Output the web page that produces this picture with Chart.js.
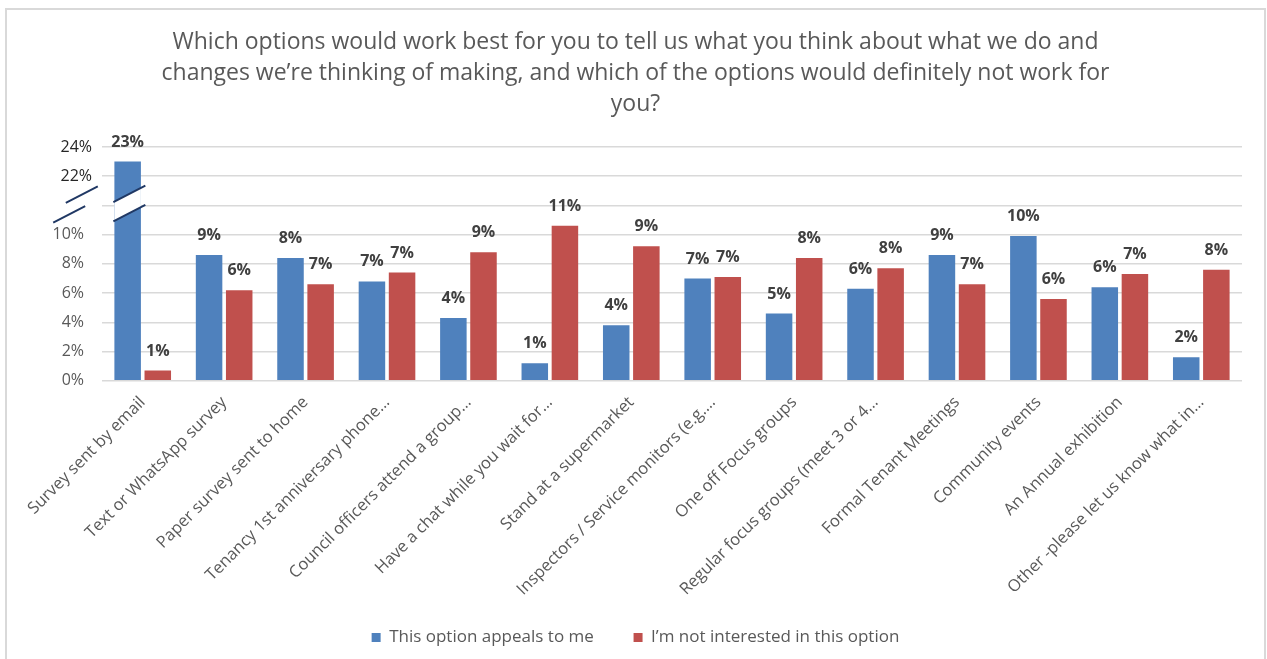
<!DOCTYPE html>
<html>
<head>
<meta charset="utf-8">
<script src="https://cdn.jsdelivr.net/npm/chart.js@4.4.0/dist/chart.umd.min.js"></script>
<style>
  html, body { margin: 0; padding: 0; background: #fff; overflow: hidden; }
  #frame { position: absolute; left: 5px; top: 8px; width: 1257px; height: 700px; border: 2px solid #d9d9d9; }
  #chart { display: block; }
</style>
</head>
<body>
<div id="frame"><canvas id="chart" width="1257" height="649"></canvas></div>
<script>
const categories = [
  'Survey sent by email',
  'Text or WhatsApp survey',
  'Paper survey sent to home',
  'Tenancy 1st anniversary phone\u2026',
  'Council officers attend a group\u2026',
  'Have a chat while you wait for\u2026',
  'Stand at a supermarket',
  'Inspectors / Service monitors (e.g.\u2026',
  'One off Focus groups',
  'Regular focus groups (meet 3 or 4\u2026',
  'Formal Tenant Meetings',
  'Community events',
  'An Annual exhibition',
  'Other -please let us know what in\u2026'
];
const appealsToMe   = [23.0, 8.6, 8.4, 6.8, 4.3, 1.2, 3.8, 7.0, 4.6, 6.3, 8.6, 9.9, 6.4, 1.6];
const notInterested = [0.7, 6.2, 6.6, 7.4, 8.8, 10.6, 9.2, 7.1, 8.4, 7.7, 6.6, 5.6, 7.3, 7.6];
const seriesNames = ['This option appeals to me', 'I\u2019m not interested in this option'];

// y axis ticks (percent); everything between 12 and 20 is cut out of the axis
const yTicks = [0, 2, 4, 6, 8, 10, 20, 22, 24];
const BREAK_FROM = 12;
const BREAK_TO = 20;

const title = [
  'Which options would work best for you to tell us what you think about what we do and',
  'changes we\u2019re thinking of making, and which of the options would definitely not work for',
  'you?'
];

function squash(v) {
  if (v <= BREAK_FROM) return v;
  if (v >= BREAK_TO) return v - (BREAK_TO - BREAK_FROM);
  return BREAK_FROM;
}
function unsquash(u) {
  return u <= BREAK_FROM ? u : u + (BREAK_TO - BREAK_FROM);
}

// linear scale with a gap in the middle
class BrokenLinearScale extends Chart.LinearScale {
  buildTicks() {
    return yTicks.map(v => ({ value: v }));
  }
  getPixelForValue(value) {
    const lo = squash(this.min), hi = squash(this.max);
    return this.getPixelForDecimal((squash(value) - lo) / (hi - lo));
  }
  getValueForPixel(pixel) {
    const lo = squash(this.min), hi = squash(this.max);
    return unsquash(lo + this.getDecimalForPixel(pixel) * (hi - lo));
  }
}
BrokenLinearScale.id = 'brokenLinear';
BrokenLinearScale.defaults = Chart.LinearScale.defaults;
Chart.register(BrokenLinearScale);

// slashes over the axis and the tall bar where the scale jumps
const axisBreak = {
  id: 'axisBreak',
  afterDatasetsDraw(chart) {
    const { ctx, chartArea, scales: { y } } = chart;
    const bar = chart.getDatasetMeta(0).data[0];
    const yMid = y.getPixelForValue(BREAK_TO);
    const slash = (cx, cy) => {
      ctx.moveTo(cx - 16, cy + 8.2);
      ctx.lineTo(cx + 16, cy - 8.2);
    };
    const cx = bar.x + 1.7;
    const upper = yMid - 11.5, lower = yMid + 7.7;

    ctx.save();
    ctx.beginPath();
    ctx.rect(bar.x - bar.width / 2, chartArea.top, bar.width, chartArea.height);
    ctx.clip();
    ctx.beginPath();
    ctx.moveTo(cx - 16, upper + 8.2);
    ctx.lineTo(cx + 16, upper - 8.2);
    ctx.lineTo(cx + 16, lower - 8.2);
    ctx.lineTo(cx - 16, lower + 8.2);
    ctx.closePath();
    ctx.fillStyle = '#fff';
    ctx.fill();
    ctx.restore();

    ctx.save();
    ctx.strokeStyle = '#203864';
    ctx.lineWidth = 2;
    ctx.beginPath();
    slash(cx, upper);
    slash(cx, lower);
    slash(chartArea.left - 20.2, yMid - 10.8);
    slash(chartArea.left - 32.8, yMid + 9);
    ctx.stroke();
    ctx.restore();
  }
};

// percentage above each bar
const barLabels = {
  id: 'barLabels',
  afterDatasetsDraw(chart) {
    const { ctx } = chart;
    ctx.save();
    ctx.font = "bold 16px 'Open Sans', sans-serif";
    ctx.fillStyle = '#404040';
    ctx.textAlign = 'center';
    ctx.textBaseline = 'middle';
    chart.data.datasets.forEach((ds, i) => {
      chart.getDatasetMeta(i).data.forEach((bar, j) => {
        ctx.fillText(Math.round(ds.data[j]) + '%', bar.x, bar.y - 19.5);
      });
    });
    ctx.restore();
  }
};

Chart.defaults.font.family = "'Open Sans', sans-serif";
Chart.defaults.color = '#595959';

const defaultLegendLabels = Chart.defaults.plugins.legend.labels.generateLabels;

new Chart(document.getElementById('chart'), {
  type: 'bar',
  data: {
    labels: categories,
    datasets: [
      { label: seriesNames[0], data: appealsToMe, backgroundColor: '#4f81bd' },
      { label: seriesNames[1], data: notInterested, backgroundColor: '#c0504d' }
    ]
  },
  options: {
    responsive: false,
    animation: false,
    devicePixelRatio: 1,
    categoryPercentage: 0.74,
    barPercentage: 0.88,
    layout: { padding: { left: 0, right: 0, top: 0, bottom: 3 } },
    scales: {
      x: {
        grid: { display: false },
        border: { display: false },
        ticks: {
          color: '#595959',
          font: { size: 16.5 },
          minRotation: 45,
          maxRotation: 45,
          autoSkip: false,
          padding: 4
        },
        afterFit: s => { s.height = 238.3; }
      },
      y: {
        type: 'brokenLinear',
        min: 0,
        max: 24,
        border: { display: false },
        grid: { color: '#d9d9d9', lineWidth: 1.5, drawTicks: false },
        ticks: {
          padding: 10,
          font: { size: 16 },
          color: c => (c.tick && c.tick.value > BREAK_TO ? '#262626' : '#595959'),
          callback: v => (v === BREAK_TO ? '' : v > BREAK_TO ? v + '%' : v + '%\u2002')
        },
        afterFit: s => { s.width = 95; }
      },
      // empty margin on the right so title and legend stay centred on the canvas
      yRight: {
        type: 'linear',
        position: 'right',
        grid: { display: false },
        border: { display: false },
        ticks: { display: false },
        afterFit: s => { s.width = 22; }
      }
    },
    plugins: {
      title: {
        display: true,
        text: title,
        color: '#595959',
        font: { size: 23, weight: 'normal', lineHeight: '31px' },
        padding: { top: 17, bottom: 27 }
      },
      legend: {
        position: 'bottom',
        labels: {
          boxWidth: 9,
          boxHeight: 9,
          color: '#595959',
          font: { size: 17 },
          padding: 10,
          // wider gap between the two entries
          generateLabels: chart => defaultLegendLabels(chart).map((item, i, all) => {
            if (i < all.length - 1) item.text += '\u2003\u2002\u2005';
            return item;
          })
        }
      },
      tooltip: { enabled: false }
    }
  },
  plugins: [axisBreak, barLabels]
});
</script>
</body>
</html>
